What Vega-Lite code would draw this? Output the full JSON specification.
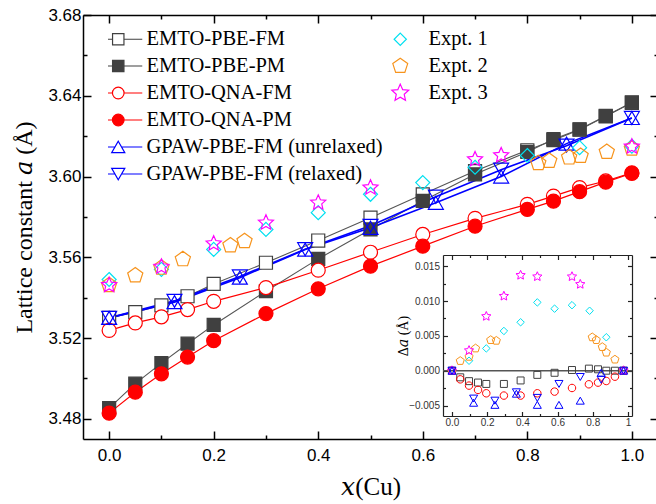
{
  "$schema": "https://vega.github.io/schema/vega-lite/v6.json",
  "width": 575,
  "height": 424,
  "autosize": {"type": "none"},
  "padding": {"left": 83, "top": 15, "right": 0, "bottom": 65},
  "background": "white",
  "config": {
    "view": {"stroke": null},
    "axis": {
      "grid": false,
      "domainColor": "#000000",
      "domainWidth": 1.5,
      "tickColor": "#000000",
      "tickWidth": 1.5,
      "labelFont": "Liberation Sans",
      "labelFontSize": 17,
      "labelColor": "#000000",
      "labelOverlap": false,
      "labelBound": false,
      "labelFlush": false,
      "titleFont": "Liberation Serif, DejaVu Serif, serif",
      "titleFontSize": 24,
      "titleFontWeight": "normal",
      "titleColor": "#000000"
    },
    "legend": {
      "orient": "none",
      "legendX": 25,
      "legendY": 14,
      "columns": 2,
      "columnPadding": 7,
      "rowPadding": 6,
      "clipHeight": 20,
      "padding": 0,
      "symbolSize": 150,
      "symbolStrokeWidth": 1.2,
      "symbolOpacity": 1,
      "labelFont": "Liberation Serif",
      "labelFontSize": 20.5,
      "labelColor": "#000000",
      "labelOffset": 18,
      "labelLimit": 400
    }
  },
  "datasets": {
    "main": [
      {"s": "EMTO-PBE-FM", "x": 0, "a": 3.530},
      {"s": "EMTO-PBE-FM", "x": 0.05, "a": 3.5328},
      {"s": "EMTO-PBE-FM", "x": 0.1, "a": 3.5362},
      {"s": "EMTO-PBE-FM", "x": 0.15, "a": 3.5407},
      {"s": "EMTO-PBE-FM", "x": 0.2, "a": 3.5468},
      {"s": "EMTO-PBE-FM", "x": 0.3, "a": 3.5573},
      {"s": "EMTO-PBE-FM", "x": 0.4, "a": 3.5683},
      {"s": "EMTO-PBE-FM", "x": 0.5, "a": 3.5796},
      {"s": "EMTO-PBE-FM", "x": 0.6, "a": 3.5912},
      {"s": "EMTO-PBE-FM", "x": 0.7, "a": 3.6027},
      {"s": "EMTO-PBE-FM", "x": 0.8, "a": 3.6130},
      {"s": "EMTO-PBE-FM", "x": 0.85, "a": 3.6180},
      {"s": "EMTO-PBE-FM", "x": 0.9, "a": 3.6232},
      {"s": "EMTO-PBE-FM", "x": 0.95, "a": 3.6298},
      {"s": "EMTO-PBE-FM", "x": 1.0, "a": 3.6365},
      {"s": "EMTO-PBE-PM", "x": 0, "a": 3.4853},
      {"s": "EMTO-PBE-PM", "x": 0.05, "a": 3.4974},
      {"s": "EMTO-PBE-PM", "x": 0.1, "a": 3.5076},
      {"s": "EMTO-PBE-PM", "x": 0.15, "a": 3.5172},
      {"s": "EMTO-PBE-PM", "x": 0.2, "a": 3.5265},
      {"s": "EMTO-PBE-PM", "x": 0.3, "a": 3.5432},
      {"s": "EMTO-PBE-PM", "x": 0.4, "a": 3.5592},
      {"s": "EMTO-PBE-PM", "x": 0.5, "a": 3.5738},
      {"s": "EMTO-PBE-PM", "x": 0.6, "a": 3.5879},
      {"s": "EMTO-PBE-PM", "x": 0.7, "a": 3.6011},
      {"s": "EMTO-PBE-PM", "x": 0.8, "a": 3.6122},
      {"s": "EMTO-PBE-PM", "x": 0.85, "a": 3.6185},
      {"s": "EMTO-PBE-PM", "x": 0.9, "a": 3.6234},
      {"s": "EMTO-PBE-PM", "x": 0.95, "a": 3.6300},
      {"s": "EMTO-PBE-PM", "x": 1.0, "a": 3.6367},
      {"s": "EMTO-QNA-FM", "x": 0, "a": 3.5238},
      {"s": "EMTO-QNA-FM", "x": 0.05, "a": 3.5275},
      {"s": "EMTO-QNA-FM", "x": 0.1, "a": 3.5305},
      {"s": "EMTO-QNA-FM", "x": 0.15, "a": 3.5341},
      {"s": "EMTO-QNA-FM", "x": 0.2, "a": 3.5382},
      {"s": "EMTO-QNA-FM", "x": 0.3, "a": 3.5450},
      {"s": "EMTO-QNA-FM", "x": 0.4, "a": 3.5536},
      {"s": "EMTO-QNA-FM", "x": 0.5, "a": 3.5625},
      {"s": "EMTO-QNA-FM", "x": 0.6, "a": 3.5713},
      {"s": "EMTO-QNA-FM", "x": 0.7, "a": 3.5793},
      {"s": "EMTO-QNA-FM", "x": 0.8, "a": 3.5862},
      {"s": "EMTO-QNA-FM", "x": 0.85, "a": 3.5903},
      {"s": "EMTO-QNA-FM", "x": 0.9, "a": 3.5945},
      {"s": "EMTO-QNA-FM", "x": 0.95, "a": 3.5978},
      {"s": "EMTO-QNA-FM", "x": 1.0, "a": 3.6018},
      {"s": "EMTO-QNA-PM", "x": 0, "a": 3.4828},
      {"s": "EMTO-QNA-PM", "x": 0.05, "a": 3.4932},
      {"s": "EMTO-QNA-PM", "x": 0.1, "a": 3.5023},
      {"s": "EMTO-QNA-PM", "x": 0.15, "a": 3.5106},
      {"s": "EMTO-QNA-PM", "x": 0.2, "a": 3.5187},
      {"s": "EMTO-QNA-PM", "x": 0.3, "a": 3.5321},
      {"s": "EMTO-QNA-PM", "x": 0.4, "a": 3.5444},
      {"s": "EMTO-QNA-PM", "x": 0.5, "a": 3.5556},
      {"s": "EMTO-QNA-PM", "x": 0.6, "a": 3.5655},
      {"s": "EMTO-QNA-PM", "x": 0.7, "a": 3.5754},
      {"s": "EMTO-QNA-PM", "x": 0.8, "a": 3.5837},
      {"s": "EMTO-QNA-PM", "x": 0.85, "a": 3.5878},
      {"s": "EMTO-QNA-PM", "x": 0.9, "a": 3.5925},
      {"s": "EMTO-QNA-PM", "x": 0.95, "a": 3.5972},
      {"s": "EMTO-QNA-PM", "x": 1.0, "a": 3.6016},
      {"s": "GPAW-PBE-FM (unrelaxed)", "x": 0, "a": 3.530},
      {"s": "GPAW-PBE-FM (unrelaxed)", "x": 0.125, "a": 3.5378},
      {"s": "GPAW-PBE-FM (unrelaxed)", "x": 0.25, "a": 3.5499},
      {"s": "GPAW-PBE-FM (unrelaxed)", "x": 0.375, "a": 3.5638},
      {"s": "GPAW-PBE-FM (unrelaxed)", "x": 0.5, "a": 3.5746},
      {"s": "GPAW-PBE-FM (unrelaxed)", "x": 0.625, "a": 3.5870},
      {"s": "GPAW-PBE-FM (unrelaxed)", "x": 0.75, "a": 3.6000},
      {"s": "GPAW-PBE-FM (unrelaxed)", "x": 0.875, "a": 3.6163},
      {"s": "GPAW-PBE-FM (unrelaxed)", "x": 1.0, "a": 3.6290},
      {"s": "GPAW-PBE-FM (relaxed)", "x": 0, "a": 3.530},
      {"s": "GPAW-PBE-FM (relaxed)", "x": 0.125, "a": 3.5384},
      {"s": "GPAW-PBE-FM (relaxed)", "x": 0.25, "a": 3.5505},
      {"s": "GPAW-PBE-FM (relaxed)", "x": 0.375, "a": 3.5640},
      {"s": "GPAW-PBE-FM (relaxed)", "x": 0.5, "a": 3.5756},
      {"s": "GPAW-PBE-FM (relaxed)", "x": 0.625, "a": 3.5900},
      {"s": "GPAW-PBE-FM (relaxed)", "x": 0.75, "a": 3.6034},
      {"s": "GPAW-PBE-FM (relaxed)", "x": 0.875, "a": 3.6153},
      {"s": "GPAW-PBE-FM (relaxed)", "x": 1.0, "a": 3.6290},
      {"s": "Expt. 1", "x": 0, "a": 3.549},
      {"s": "Expt. 1", "x": 0.1, "a": 3.554},
      {"s": "Expt. 1", "x": 0.2, "a": 3.5639},
      {"s": "Expt. 1", "x": 0.3, "a": 3.5738},
      {"s": "Expt. 1", "x": 0.4, "a": 3.5821},
      {"s": "Expt. 1", "x": 0.5, "a": 3.5912},
      {"s": "Expt. 1", "x": 0.6, "a": 3.5970},
      {"s": "Expt. 1", "x": 0.7, "a": 3.6046},
      {"s": "Expt. 1", "x": 0.8, "a": 3.6104},
      {"s": "Expt. 1", "x": 0.9, "a": 3.6143},
      {"s": "Expt. 1", "x": 1.0, "a": 3.6150},
      {"s": "Expt. 2", "x": 0, "a": 3.5462},
      {"s": "Expt. 2", "x": 0.05, "a": 3.5510},
      {"s": "Expt. 2", "x": 0.1, "a": 3.5548},
      {"s": "Expt. 2", "x": 0.141, "a": 3.5590},
      {"s": "Expt. 2", "x": 0.232, "a": 3.5659},
      {"s": "Expt. 2", "x": 0.259, "a": 3.5680},
      {"s": "Expt. 2", "x": 0.821, "a": 3.6066},
      {"s": "Expt. 2", "x": 0.842, "a": 3.6077},
      {"s": "Expt. 2", "x": 0.88, "a": 3.6094},
      {"s": "Expt. 2", "x": 0.902, "a": 3.6102},
      {"s": "Expt. 2", "x": 0.952, "a": 3.6122},
      {"s": "Expt. 2", "x": 1.0, "a": 3.6138},
      {"s": "Expt. 3", "x": 0, "a": 3.5462},
      {"s": "Expt. 3", "x": 0.1, "a": 3.5553},
      {"s": "Expt. 3", "x": 0.2, "a": 3.5668},
      {"s": "Expt. 3", "x": 0.3, "a": 3.5771},
      {"s": "Expt. 3", "x": 0.4, "a": 3.5870},
      {"s": "Expt. 3", "x": 0.5, "a": 3.5945},
      {"s": "Expt. 3", "x": 0.7, "a": 3.6085},
      {"s": "Expt. 3", "x": 0.75, "a": 3.6105},
      {"s": "Expt. 3", "x": 1.0, "a": 3.6148}
    ],
    "inset": [
      {"s": "PBE", "x": 0, "d": 0},
      {"s": "PBE", "x": 0.047, "d": -0.00095},
      {"s": "PBE", "x": 0.097, "d": -0.0015},
      {"s": "PBE", "x": 0.148, "d": -0.0017},
      {"s": "PBE", "x": 0.195, "d": -0.0019},
      {"s": "PBE", "x": 0.295, "d": -0.0019},
      {"s": "PBE", "x": 0.39, "d": -0.0014},
      {"s": "PBE", "x": 0.485, "d": -0.0006},
      {"s": "PBE", "x": 0.583, "d": -0.0003},
      {"s": "PBE", "x": 0.682, "d": 0.0001},
      {"s": "PBE", "x": 0.778, "d": 0.0003},
      {"s": "PBE", "x": 0.83, "d": 0.0002},
      {"s": "PBE", "x": 0.877, "d": 0},
      {"s": "PBE", "x": 0.926, "d": 0},
      {"s": "PBE", "x": 0.975, "d": 0},
      {"s": "QNA", "x": 0, "d": 0},
      {"s": "QNA", "x": 0.047, "d": -0.00124},
      {"s": "QNA", "x": 0.097, "d": -0.00214},
      {"s": "QNA", "x": 0.148, "d": -0.00276},
      {"s": "QNA", "x": 0.195, "d": -0.00324},
      {"s": "QNA", "x": 0.295, "d": -0.00357},
      {"s": "QNA", "x": 0.39, "d": -0.00357},
      {"s": "QNA", "x": 0.485, "d": -0.00324},
      {"s": "QNA", "x": 0.583, "d": -0.0030},
      {"s": "QNA", "x": 0.682, "d": -0.00248},
      {"s": "QNA", "x": 0.778, "d": -0.00195},
      {"s": "QNA", "x": 0.83, "d": -0.00171},
      {"s": "QNA", "x": 0.877, "d": -0.00148},
      {"s": "QNA", "x": 0.926, "d": -0.00086},
      {"s": "QNA", "x": 0.975, "d": 0},
      {"s": "Expt. 1", "x": 0, "d": 0},
      {"s": "Expt. 1", "x": 0.097, "d": 0.00143},
      {"s": "Expt. 1", "x": 0.195, "d": 0.0032},
      {"s": "Expt. 1", "x": 0.295, "d": 0.0057},
      {"s": "Expt. 1", "x": 0.39, "d": 0.00695},
      {"s": "Expt. 1", "x": 0.485, "d": 0.0098},
      {"s": "Expt. 1", "x": 0.583, "d": 0.0089},
      {"s": "Expt. 1", "x": 0.682, "d": 0.0094},
      {"s": "Expt. 1", "x": 0.782, "d": 0.0086},
      {"s": "Expt. 1", "x": 0.877, "d": 0.0048},
      {"s": "Expt. 1", "x": 0.975, "d": 0},
      {"s": "Expt. 2", "x": 0, "d": 0},
      {"s": "Expt. 2", "x": 0.047, "d": 0.0014},
      {"s": "Expt. 2", "x": 0.097, "d": 0.0020},
      {"s": "Expt. 2", "x": 0.134, "d": 0.0032},
      {"s": "Expt. 2", "x": 0.22, "d": 0.0044},
      {"s": "Expt. 2", "x": 0.252, "d": 0.0043},
      {"s": "Expt. 2", "x": 0.797, "d": 0.0048},
      {"s": "Expt. 2", "x": 0.82, "d": 0.0044},
      {"s": "Expt. 2", "x": 0.854, "d": 0.0034},
      {"s": "Expt. 2", "x": 0.877, "d": 0.0026},
      {"s": "Expt. 2", "x": 0.926, "d": 0.0016},
      {"s": "Expt. 2", "x": 0.975, "d": 0},
      {"s": "Expt. 3", "x": 0, "d": 0},
      {"s": "Expt. 3", "x": 0.097, "d": 0.0029},
      {"s": "Expt. 3", "x": 0.195, "d": 0.0078},
      {"s": "Expt. 3", "x": 0.295, "d": 0.0107},
      {"s": "Expt. 3", "x": 0.39, "d": 0.0137},
      {"s": "Expt. 3", "x": 0.485, "d": 0.0135},
      {"s": "Expt. 3", "x": 0.682, "d": 0.0135},
      {"s": "Expt. 3", "x": 0.729, "d": 0.0124},
      {"s": "Expt. 3", "x": 0.975, "d": 0},
      {"s": "GPAW (unrelaxed)", "x": 0, "d": 0},
      {"s": "GPAW (unrelaxed)", "x": 0.123, "d": -0.0046},
      {"s": "GPAW (unrelaxed)", "x": 0.244, "d": -0.0049},
      {"s": "GPAW (unrelaxed)", "x": 0.366, "d": -0.0033},
      {"s": "GPAW (unrelaxed)", "x": 0.485, "d": -0.0049},
      {"s": "GPAW (unrelaxed)", "x": 0.608, "d": -0.0049},
      {"s": "GPAW (unrelaxed)", "x": 0.729, "d": -0.0043},
      {"s": "GPAW (unrelaxed)", "x": 0.848, "d": -0.0003},
      {"s": "GPAW (unrelaxed)", "x": 0.975, "d": 0},
      {"s": "GPAW (relaxed)", "x": 0, "d": 0},
      {"s": "GPAW (relaxed)", "x": 0.123, "d": -0.0040},
      {"s": "GPAW (relaxed)", "x": 0.244, "d": -0.0043},
      {"s": "GPAW (relaxed)", "x": 0.366, "d": -0.0031},
      {"s": "GPAW (relaxed)", "x": 0.485, "d": -0.0039},
      {"s": "GPAW (relaxed)", "x": 0.608, "d": -0.0019},
      {"s": "GPAW (relaxed)", "x": 0.729, "d": -0.0009},
      {"s": "GPAW (relaxed)", "x": 0.848, "d": -0.0013},
      {"s": "GPAW (relaxed)", "x": 0.975, "d": 0}
    ]
  },
  "layer": [
    {
      "layer": [
        {
          "data": {"name": "main"},
          "transform": [{"filter": {"field": "s", "oneOf": ["EMTO-PBE-FM", "EMTO-PBE-PM", "EMTO-QNA-FM", "EMTO-QNA-PM", "GPAW-PBE-FM (unrelaxed)", "GPAW-PBE-FM (relaxed)"]}}],
          "mark": {"type": "line", "clip": false},
          "encoding": {
            "x": {
              "field": "x", "type": "quantitative",
              "scale": {"domain": [-0.05, 1.05], "nice": false, "zero": false},
              "axis": {
                "orient": "bottom",
                "values": [0, 0.1, 0.2, 0.3, 0.4, 0.5, 0.6, 0.7, 0.8, 0.9, 1],
                "tickSize": -8,
                "tickDash": {"condition": {"test": "abs(datum.value*5-round(datum.value*5))<0.01", "value": [8, 0]}, "value": [4, 20]},
                "labelExpr": "abs(datum.value*5-round(datum.value*5))<0.01 ? format(datum.value, '.1f') : ''",
                "labelPadding": 16.5,
                "title": "𝑥(Cu)",
                "titleFontSize": 25,
                "titlePadding": 11
              }
            },
            "y": {
              "field": "a", "type": "quantitative",
              "scale": {"domain": [3.47, 3.68], "nice": false, "zero": false},
              "axis": {
                "orient": "left",
                "values": [3.48, 3.5, 3.52, 3.54, 3.56, 3.58, 3.6, 3.62, 3.64, 3.66, 3.68],
                "tickSize": -8,
                "tickDash": {"condition": {"test": "abs(datum.value*25-round(datum.value*25))<0.01", "value": [8, 0]}, "value": [4, 20]},
                "labelExpr": "abs(datum.value*25-round(datum.value*25))<0.01 ? format(datum.value, '.2f') : ''",
                "labelPadding": 10,
                "title": "Lattice constant 𝑎 (Å)",
                "titlePadding": 11
              }
            },
            "color": {
              "field": "s", "type": "nominal", "legend": null,
              "scale": {
                "domain": ["EMTO-PBE-FM", "EMTO-PBE-PM", "EMTO-QNA-FM", "EMTO-QNA-PM", "GPAW-PBE-FM (unrelaxed)", "GPAW-PBE-FM (relaxed)"],
                "range": ["#555555", "#555555", "#ff0000", "#ff0000", "#0000ff", "#0000ff"]
              }
            },
            "strokeWidth": {
              "field": "s", "type": "nominal", "legend": null,
              "scale": {
                "type": "ordinal",
                "domain": ["EMTO-PBE-FM", "EMTO-PBE-PM", "EMTO-QNA-FM", "EMTO-QNA-PM", "GPAW-PBE-FM (unrelaxed)", "GPAW-PBE-FM (relaxed)"],
                "range": [1.1, 1.1, 1.2, 1.2, 1.6, 1.6]
              }
            }
          }
        },
        {
          "data": {"name": "main"},
          "mark": {"type": "point", "filled": true, "size": 196, "strokeWidth": 1.2, "opacity": 1, "clip": false},
          "encoding": {
            "x": {
              "field": "x", "type": "quantitative",
              "scale": {"domain": [-0.05, 1.05], "nice": false, "zero": false},
              "axis": {
                "orient": "top",
                "values": [0, 0.1, 0.2, 0.3, 0.4, 0.5, 0.6, 0.7, 0.8, 0.9, 1],
                "tickSize": -8,
                "tickDash": {"condition": {"test": "abs(datum.value*5-round(datum.value*5))<0.01", "value": [8, 0]}, "value": [4, 20]},
                "labels": false,
                "title": null
              }
            },
            "y": {
              "field": "a", "type": "quantitative",
              "scale": {"domain": [3.47, 3.68], "nice": false, "zero": false},
              "axis": {
                "orient": "right",
                "values": [3.48, 3.5, 3.52, 3.54, 3.56, 3.58, 3.6, 3.62, 3.64, 3.66, 3.68],
                "tickSize": -8,
                "tickDash": {"condition": {"test": "abs(datum.value*25-round(datum.value*25))<0.01", "value": [8, 0]}, "value": [4, 20]},
                "labels": false,
                "title": null
              }
            },
            "shape": {
              "field": "s", "type": "nominal", "legend": null,
              "scale": {
                "domain": ["EMTO-PBE-FM", "EMTO-PBE-PM", "EMTO-QNA-FM", "EMTO-QNA-PM", "GPAW-PBE-FM (unrelaxed)", "GPAW-PBE-FM (relaxed)", "Expt. 1", "Expt. 2", "Expt. 3"],
                "range": [
                  "M-0.93,-0.93H0.93V0.93H-0.93Z",
                  "M-0.93,-0.93H0.93V0.93H-0.93Z",
                  "M-1,0A1,1 0 1,0 1,0A1,1 0 1,0 -1,0Z",
                  "M-1,0A1,1 0 1,0 1,0A1,1 0 1,0 -1,0Z",
                  "M0,-0.93L1.07,0.93L-1.07,0.93Z",
                  "M0,0.93L1.07,-0.93L-1.07,-0.93Z",
                  "M0,-1L1,0L0,1L-1,0Z",
                  "M0,-1.14L1.084,-0.352L0.67,0.922L-0.67,0.922L-1.084,-0.352Z",
                  "M0,-1.13L0.312,-0.429L1.075,-0.349L0.504,0.164L0.664,0.914L0,0.53L-0.664,0.914L-0.504,0.164L-1.075,-0.349L-0.312,-0.429Z"
                ]
              }
            },
            "stroke": {
              "field": "s", "type": "nominal", "legend": null,
              "scale": {
                "domain": ["EMTO-PBE-FM", "EMTO-PBE-PM", "EMTO-QNA-FM", "EMTO-QNA-PM", "GPAW-PBE-FM (unrelaxed)", "GPAW-PBE-FM (relaxed)", "Expt. 1", "Expt. 2", "Expt. 3"],
                "range": ["#404040", "#404040", "#ff0000", "#ff0000", "#0000ff", "#0000ff", "#00e0f0", "#f7941d", "#ff00ff"]
              }
            },
            "fill": {
              "field": "s", "type": "nominal", "legend": null,
              "scale": {
                "domain": ["EMTO-PBE-FM", "EMTO-PBE-PM", "EMTO-QNA-FM", "EMTO-QNA-PM", "GPAW-PBE-FM (unrelaxed)", "GPAW-PBE-FM (relaxed)", "Expt. 1", "Expt. 2", "Expt. 3"],
                "range": ["#ffffff", "#404040", "#ffffff", "#ff0000", "transparent", "transparent", "transparent", "transparent", "transparent"]
              }
            }
          }
        },
        {
          "data": {"name": "main"},
          "transform": [{"filter": "false"}],
          "mark": {"type": "point", "filled": true, "strokeWidth": 1.2, "opacity": 1},
          "encoding": {
            "shape": {
              "field": "s", "type": "nominal", "title": null,
              "scale": {
                "domain": ["EMTO-PBE-FM", "EMTO-PBE-PM", "EMTO-QNA-FM", "EMTO-QNA-PM", "GPAW-PBE-FM (unrelaxed)", "GPAW-PBE-FM (relaxed)", "Expt. 1", "Expt. 2", "Expt. 3", " ", "  "],
                "range": [
                  "M-3.92,0H-0.93M0.93,0H3.92M-0.93,-0.93H0.93V0.93H-0.93Z",
                  "M-3.92,0H-0.93M0.93,0H3.92M-0.93,-0.93H0.93V0.93H-0.93Z",
                  "M-3.92,0H-0.95M0.95,0H3.92M-0.95,0A0.95,0.95 0 1,0 0.95,0A0.95,0.95 0 1,0 -0.95,0Z",
                  "M-3.92,0H-0.95M0.95,0H3.92M-0.95,0A0.95,0.95 0 1,0 0.95,0A0.95,0.95 0 1,0 -0.95,0Z",
                  "M-3.92,0H-0.535M0.535,0H3.92M0,-0.93L1.07,0.93L-1.07,0.93Z",
                  "M-3.92,0H-0.535M0.535,0H3.92M0,0.93L1.07,-0.93L-1.07,-0.93Z",
                  "M0,-1L1,0L0,1L-1,0Z",
                  "M0,-1.28L1.217,-0.396L0.752,1.036L-0.752,1.036L-1.217,-0.396Z",
                  "M0,-1.45L0.4,-0.55L1.38,-0.448L0.647,0.21L0.852,1.173L0,0.68L-0.852,1.173L-0.647,0.21L-1.38,-0.448L-0.4,-0.55Z",
                  "M0,-1L1,0L0,1L-1,0Z",
                  "M0,-1L1,0L0,1L-1,0Z"
                ]
              }
            },
            "stroke": {
              "field": "s", "type": "nominal", "title": null,
              "scale": {
                "domain": ["EMTO-PBE-FM", "EMTO-PBE-PM", "EMTO-QNA-FM", "EMTO-QNA-PM", "GPAW-PBE-FM (unrelaxed)", "GPAW-PBE-FM (relaxed)", "Expt. 1", "Expt. 2", "Expt. 3", " ", "  "],
                "range": ["#404040", "#404040", "#ff0000", "#ff0000", "#0000ff", "#0000ff", "#00e0f0", "#f7941d", "#ff00ff", "transparent", "transparent"]
              }
            },
            "fill": {
              "field": "s", "type": "nominal", "title": null,
              "scale": {
                "domain": ["EMTO-PBE-FM", "EMTO-PBE-PM", "EMTO-QNA-FM", "EMTO-QNA-PM", "GPAW-PBE-FM (unrelaxed)", "GPAW-PBE-FM (relaxed)", "Expt. 1", "Expt. 2", "Expt. 3", " ", "  "],
                "range": ["#ffffff", "#404040", "#ffffff", "#ff0000", "#ffffff", "#ffffff", "transparent", "transparent", "transparent", "transparent", "transparent"]
              }
            }
          }
        }
      ],
      "resolve": {
        "scale": {"shape": "independent", "fill": "independent", "stroke": "independent"},
        "axis": {"x": "independent", "y": "independent"}
      }
    },
    {
      "layer": [
        {
          "data": {"values": [{"v": 0}]},
          "mark": {"type": "rule", "color": "#555555", "strokeWidth": 1.5},
          "encoding": {
            "x": {
              "datum": -0.051, "type": "quantitative",
              "scale": {"domain": [-0.051, 1.023], "range": [360, 549], "nice": false, "zero": false},
              "axis": {
                "orient": "top", "offset": -240,
                "values": [0, 0.1, 0.2, 0.3, 0.4, 0.5, 0.6, 0.7, 0.8, 0.9, 1],
                "tickSize": -4.5, "tickWidth": 1.2, "domainWidth": 1.2, "domainColor": "#222222", "tickColor": "#222222",
                "tickDash": {"condition": {"test": "abs(datum.value*5-round(datum.value*5))<0.01", "value": [4.5, 0]}, "value": [2.5, 10]},
                "labels": false, "title": null
              }
            },
            "x2": {"datum": 1.023},
            "y": {
              "datum": 0, "type": "quantitative",
              "scale": {"domain": [-0.0065, 0.0166], "range": [401, 240], "nice": false, "zero": false},
              "axis": {
                "orient": "right", "offset": -26,
                "values": [-0.005, -0.0025, 0, 0.0025, 0.005, 0.0075, 0.01, 0.0125, 0.015],
                "tickSize": -4.5, "tickWidth": 1.2, "domainWidth": 1.2, "domainColor": "#222222", "tickColor": "#222222",
                "tickDash": {"condition": {"test": "abs(datum.value*200-round(datum.value*200))<0.01", "value": [4.5, 0]}, "value": [2.5, 10]},
                "labels": false, "title": null
              }
            }
          }
        },
        {
          "data": {"name": "inset"},
          "mark": {"type": "point", "filled": true, "size": 56, "strokeWidth": 1, "opacity": 1},
          "encoding": {
            "x": {
              "field": "x", "type": "quantitative",
              "scale": {"domain": [-0.051, 1.023], "range": [360, 549], "nice": false, "zero": false},
              "axis": {
                "orient": "bottom", "offset": -23,
                "values": [0, 0.1, 0.2, 0.3, 0.4, 0.5, 0.6, 0.7, 0.8, 0.9, 1],
                "tickSize": -4.5, "tickWidth": 1.2, "domainWidth": 1.2, "domainColor": "#222222", "tickColor": "#222222",
                "tickDash": {"condition": {"test": "abs(datum.value*5-round(datum.value*5))<0.01", "value": [4.5, 0]}, "value": [2.5, 10]},
                "labelExpr": "datum.value == 1 ? '1' : (abs(datum.value*5-round(datum.value*5))<0.01 ? format(datum.value, '.1f') : '')",
                "labelFontSize": 10, "labelColor": "#333333", "labelPadding": 5.5,
                "title": null
              }
            },
            "y": {
              "field": "d", "type": "quantitative",
              "scale": {"domain": [-0.0065, 0.0166], "range": [401, 240], "nice": false, "zero": false},
              "axis": {
                "orient": "left", "offset": -360,
                "values": [-0.005, -0.0025, 0, 0.0025, 0.005, 0.0075, 0.01, 0.0125, 0.015],
                "tickSize": -4.5, "tickWidth": 1.2, "domainWidth": 1.2, "domainColor": "#222222", "tickColor": "#222222",
                "tickDash": {"condition": {"test": "abs(datum.value*200-round(datum.value*200))<0.01", "value": [4.5, 0]}, "value": [2.5, 10]},
                "labelExpr": "abs(datum.value*200-round(datum.value*200))<0.01 ? format(datum.value, '.3f') : ''",
                "labelFontSize": 10, "labelColor": "#333333", "labelPadding": 8,
                "title": "Δ𝑎 (Å)", "titleFontSize": 14, "titlePadding": -2
              }
            },
            "shape": {
              "field": "s", "type": "nominal", "legend": null,
              "scale": {
                "domain": ["PBE", "QNA", "Expt. 1", "Expt. 2", "Expt. 3", "GPAW (unrelaxed)", "GPAW (relaxed)"],
                "range": [
                  "M-0.93,-0.93H0.93V0.93H-0.93Z",
                  "M-1,0A1,1 0 1,0 1,0A1,1 0 1,0 -1,0Z",
                  "M0,-1L1,0L0,1L-1,0Z",
                  "M0,-1.14L1.084,-0.352L0.67,0.922L-0.67,0.922L-1.084,-0.352Z",
                  "M0,-1.3L0.359,-0.493L1.236,-0.401L0.58,0.189L0.764,1.051L0,0.61L-0.764,1.051L-0.58,0.189L-1.236,-0.401L-0.359,-0.493Z",
                  "M0,-0.93L1.07,0.93L-1.07,0.93Z",
                  "M0,0.93L1.07,-0.93L-1.07,-0.93Z"
                ]
              }
            },
            "stroke": {
              "field": "s", "type": "nominal", "legend": null,
              "scale": {
                "domain": ["PBE", "QNA", "Expt. 1", "Expt. 2", "Expt. 3", "GPAW (unrelaxed)", "GPAW (relaxed)"],
                "range": ["#404040", "#ff0000", "#00e0f0", "#f7941d", "#ff00ff", "#0000ff", "#0000ff"]
              }
            },
            "fill": {
              "field": "s", "type": "nominal", "legend": null,
              "scale": {
                "domain": ["PBE", "QNA", "Expt. 1", "Expt. 2", "Expt. 3", "GPAW (unrelaxed)", "GPAW (relaxed)"],
                "range": ["transparent", "transparent", "transparent", "transparent", "transparent", "transparent", "transparent"]
              }
            }
          }
        }
      ],
      "resolve": {"axis": {"x": "independent", "y": "independent"}}
    }
  ],
  "resolve": {
    "scale": {"x": "independent", "y": "independent", "shape": "independent", "fill": "independent", "stroke": "independent", "color": "independent", "strokeWidth": "independent"},
    "axis": {"x": "independent", "y": "independent"}
  }
}
